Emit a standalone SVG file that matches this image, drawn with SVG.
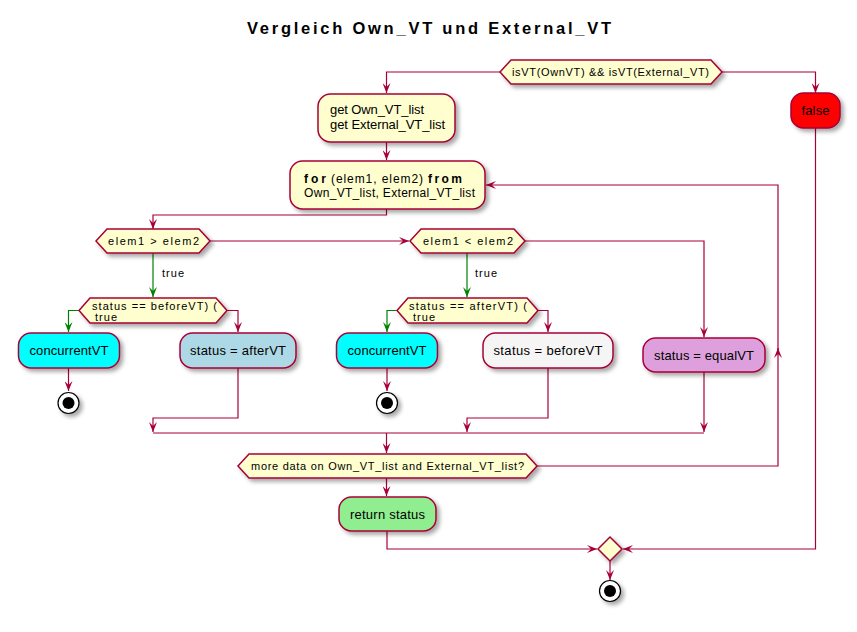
<svg xmlns="http://www.w3.org/2000/svg" width="857" height="632" viewBox="0 0 857 632">
<defs>
<filter id="sh" x="-20%" y="-20%" width="150%" height="160%">
<feDropShadow dx="3" dy="3" stdDeviation="2" flood-color="#000" flood-opacity="0.35"/>
</filter>
<marker id="ar" viewBox="0 0 10 8" refX="10" refY="4" markerWidth="10" markerHeight="8" markerUnits="userSpaceOnUse" orient="auto">
<path d="M0,0 L10,4 L0,8 L4,4 z" fill="#A80036"/>
</marker>
<marker id="ag" viewBox="0 0 10 8" refX="10" refY="4" markerWidth="10" markerHeight="8" markerUnits="userSpaceOnUse" orient="auto">
<path d="M0,0 L10,4 L0,8 L4,4 z" fill="#008000"/>
</marker>
</defs>
<style>
.box{stroke:#A80036;stroke-width:1.5;filter:url(#sh)}
.act{fill:#FEFECE}
.ln{fill:none;stroke:#A80036;stroke-width:1.2;marker-end:url(#ar)}
.ln0{fill:none;stroke:#A80036;stroke-width:1.2}
.gr{fill:none;stroke:#008000;stroke-width:1.2;marker-end:url(#ag)}
text{font-family:"Liberation Sans",Arial,sans-serif;fill:#000}
.t12{font-size:13px}
.t12s{font-size:12px}
.t11{font-size:11px}
.b{font-weight:bold}
.mid{text-anchor:middle}
</style>
<text x="429" y="34" class="b mid" font-size="16.5" textLength="364">Vergleich Own_VT und External_VT</text>

<g id="connectors">
<path class="ln" d="M500,72 H386.5 V93"/>
<path class="ln" d="M722,72 H815.5 V93"/>
<path class="ln" d="M386.5,142 V160"/>
<path class="ln" d="M386.5,209 V215 H153 V229"/>
<path class="ln" d="M210,241 H409"/>
<path class="ln" d="M525,241 H704 V337"/>
<path class="gr" d="M153,253 V297"/>
<path class="gr" d="M467,253 V297"/>
<path class="gr" d="M79,310.5 H68.5 V332"/>
<path class="ln" d="M227,310.5 H238 V332"/>
<path class="gr" d="M397,310.5 H387 V332"/>
<path class="ln" d="M538,310.5 H548 V332"/>
<path class="ln" d="M68.5,368 V391"/>
<path class="ln" d="M387,368 V391"/>
<path class="ln" d="M238,368 V418 H153 V432"/>
<path class="ln" d="M548,368 V418 H467 V432"/>
<path class="ln" d="M704,372 V432"/>
<path class="ln0" d="M153,433 H704"/>
<path class="ln" d="M386.5,433 V453"/>
<path class="ln" d="M537,466 H778 V348"/>
<path class="ln" d="M778,350 V185 H486"/>
<path class="ln" d="M386.5,478 V496"/>
<path class="ln" d="M387,531 V549 H597"/>
<path class="ln" d="M815.5,128 V549 H623"/>
<path class="ln" d="M610,561 V580"/>
<text x="162" y="277" class="t11" textLength="22">true</text>
<text x="475" y="277" class="t11" textLength="22">true</text>
</g>

<g id="cond1">
<polygon class="box act" points="511,60 711,60 722,72 711,84 511,84 500,72"/>
<text x="512" y="76" class="t11" textLength="197">isVT(OwnVT) &amp;&amp; isVT(External_VT)</text>
</g>
<g id="getLists">
<rect class="box act" x="318" y="94" width="137" height="48" rx="12.5"/>
<text x="330" y="114" class="t12" textLength="94">get Own_VT_list</text>
<text x="330" y="129" class="t12" textLength="115">get External_VT_list</text>
</g>
<g id="false">
<rect class="box" fill="#FF0000" x="791" y="93" width="49" height="35" rx="12.5"/>
<text x="815.5" y="114.5" class="t12 mid" textLength="28">false</text>
</g>
<g id="forLoop">
<rect class="box act" x="290" y="161" width="195" height="48" rx="12.5"/>
<text x="304" y="183" class="t12s b" textLength="22">for</text>
<text x="331" y="183" class="t12s" textLength="92">(elem1, elem2)</text>
<text x="428" y="183" class="t12s b" textLength="34">from</text>
<text x="304" y="197" class="t12s" textLength="171">Own_VT_list, External_VT_list</text>
</g>
<g id="condGreater">
<polygon class="box act" points="107,229 199,229 210,241 199,253 107,253 96,241"/>
<text x="108" y="245" class="t11" textLength="91">elem1 &gt; elem2</text>
</g>
<g id="condLess">
<polygon class="box act" points="421,229 514,229 525,241 514,253 421,253 410,241"/>
<text x="423" y="245" class="t11" textLength="90">elem1 &lt; elem2</text>
</g>
<g id="condBefore">
<polygon class="box act" points="90,298 216,298 227,310.5 216,323 90,323 79,310.5"/>
<text x="92" y="309.5" class="t11" textLength="125">status == beforeVT) (</text>
<text x="95" y="321" class="t11" textLength="22">true</text>
</g>
<g id="condAfter">
<polygon class="box act" points="408,298 527,298 538,310.5 527,323 408,323 397,310.5"/>
<text x="409" y="309.5" class="t11" textLength="118">status == afterVT) (</text>
<text x="413" y="321" class="t11" textLength="22">true</text>
</g>
<g id="concurrent1">
<rect class="box" fill="#00FFFF" x="18.5" y="333" width="101" height="35" rx="12.5"/>
<text x="69" y="355" class="t12 mid" textLength="79">concurrentVT</text>
</g>
<g id="afterVT">
<rect class="box" fill="#ADD8E6" x="180" y="333" width="116" height="35" rx="12.5"/>
<text x="238" y="355" class="t12 mid" textLength="96">status = afterVT</text>
</g>
<g id="concurrent2">
<rect class="box" fill="#00FFFF" x="336.5" y="333" width="101" height="35" rx="12.5"/>
<text x="387" y="355" class="t12 mid" textLength="79">concurrentVT</text>
</g>
<g id="beforeVT">
<rect class="box" fill="#F5F5F5" x="483" y="333" width="130" height="35" rx="12.5"/>
<text x="548" y="355" class="t12 mid" textLength="109">status = beforeVT</text>
</g>
<g id="equalVT">
<rect class="box" fill="#DDA0DD" x="643" y="338" width="122" height="34" rx="12.5"/>
<text x="704" y="359.5" class="t12 mid" textLength="100">status = equalVT</text>
</g>
<g id="stop1">
<circle cx="68.5" cy="403" r="10.5" fill="#FFFFFF" stroke="#000" stroke-width="1.2" filter="url(#sh)"/>
<circle cx="68.5" cy="403" r="6" fill="#000"/>
</g>
<g id="stop2">
<circle cx="387" cy="403" r="10.5" fill="#FFFFFF" stroke="#000" stroke-width="1.2" filter="url(#sh)"/>
<circle cx="387" cy="403" r="6" fill="#000"/>
</g>
<g id="condMore">
<polygon class="box act" points="249,454 526,454 537,466 526,478 249,478 238,466"/>
<text x="251" y="470" class="t11" textLength="273">more data on Own_VT_list and External_VT_list?</text>
</g>
<g id="returnStatus">
<rect class="box" fill="#90EE90" x="339" y="497" width="97" height="34" rx="12.5"/>
<text x="387.5" y="519" class="t12 mid" textLength="75">return status</text>
</g>
<g id="merge">
<polygon class="box act" points="610,537 622,549 610,561 598,549"/>
</g>
<g id="stopEnd">
<circle cx="610" cy="591" r="10.5" fill="#FFFFFF" stroke="#000" stroke-width="1.2" filter="url(#sh)"/>
<circle cx="610" cy="591" r="6" fill="#000"/>
</g>
</svg>
